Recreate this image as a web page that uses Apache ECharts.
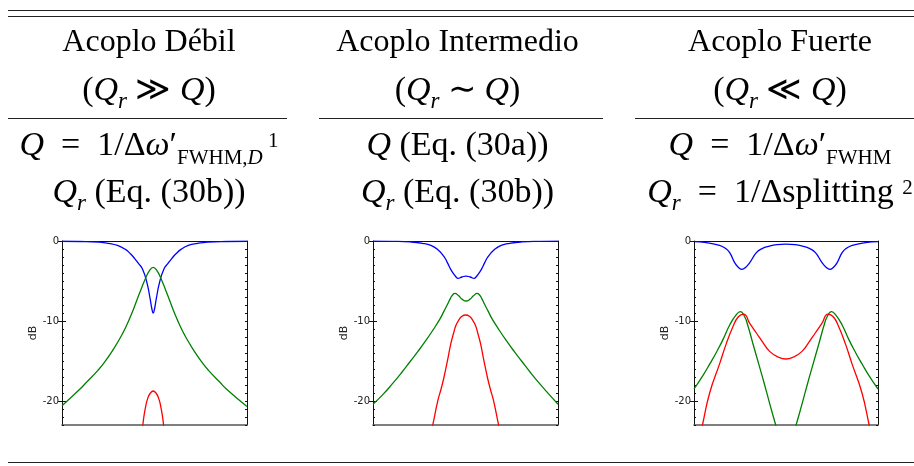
<!DOCTYPE html>
<html>
<head>
<meta charset="utf-8">
<script src="https://cdn.jsdelivr.net/npm/echarts@6/dist/echarts.min.js"></script>
<style>
html, body { margin: 0; padding: 0; background: #fff; }
#main { width: 914px; height: 466px; }
</style>
</head>
<body>
<div id="main"></div>
<script>
// Acoplo débil
var weakBlueX = [0, 10, 20, 25.3, 30, 34.3, 37, 39.3, 41.3, 43.5, 45.9, 47.7, 48.6, 49.3, 50, 50.9, 52.7, 55.1, 57.3, 59.3, 61.6, 64.3, 68.3, 73.3, 78.6, 88.6, 100];
var weakBlueY = [-0.03, -0.06, -0.15, -0.3, -0.55, -1.05, -1.6, -2.2, -2.8, -3.5, -5.2, -7.3, -8.5, -9.0, -8.5, -7.3, -5.2, -3.5, -2.8, -2.2, -1.6, -1.05, -0.55, -0.3, -0.15, -0.06, -0.03];
var weakGreenX = [0, 9.3, 13.5, 19.3, 22.5, 27.3, 31.5, 35, 37.8, 40.3, 42.8, 45.3, 47.3, 49.3, 51.3, 53.3, 55.8, 58.3, 60.8, 63.6, 67.1, 71.3, 76.1, 79.3, 85.1, 89.3, 100];
var weakGreenY = [-20.6, -18.6, -17.6, -16.2, -15.3, -13.7, -12.1, -10.5, -9.0, -7.5, -6.0, -4.6, -3.7, -3.3, -3.7, -4.6, -6.0, -7.5, -9.0, -10.5, -12.1, -13.7, -15.3, -16.2, -17.6, -18.6, -20.7];
var weakRedX = [42.9, 43.7, 44.3, 45.3, 46.3, 47.8, 49.3, 50.8, 52.3, 53.3, 54.3, 54.9, 55.7];
var weakRedY = [-24.5, -23, -21.9, -20.6, -19.7, -19.0, -18.75, -19.0, -19.7, -20.6, -21.9, -23, -24.5];

// Acoplo intermedio
var midBlueX = [0, 10.3, 20.3, 26.7, 31.3, 34.8, 38.4, 40.2, 42, 43.8, 44.9, 45.9, 48.1, 50.3, 52.5, 54.7, 55.7, 56.8, 58.6, 60.4, 62.2, 65.8, 69.3, 73.9, 80.3, 90.3, 100];
var midBlueY = [-0.01, -0.04, -0.12, -0.29, -0.55, -1.04, -1.96, -2.7, -3.54, -4.17, -4.5, -4.67, -4.5, -4.38, -4.5, -4.67, -4.5, -4.17, -3.54, -2.7, -1.96, -1.04, -0.55, -0.29, -0.12, -0.04, -0.01];
var midGreenX = [0, 5.3, 10.3, 15.3, 20.3, 24.3, 28.7, 32.5, 36.3, 38.3, 40.3, 41.8, 43, 44.3, 46.3, 48.3, 50.3, 52.3, 54.3, 56.3, 57.6, 58.8, 60.3, 62.3, 64.3, 68.1, 71.9, 76.3, 80.3, 85.3, 90.3, 95.3, 100];
var midGreenY = [-20.4, -19.2, -17.9, -16.5, -15.0, -13.8, -12.4, -11.1, -9.7, -8.8, -7.9, -7.2, -6.75, -6.54, -6.85, -7.3, -7.5, -7.3, -6.85, -6.54, -6.75, -7.2, -7.9, -8.8, -9.7, -11.1, -12.4, -13.8, -15.0, -16.5, -17.9, -19.2, -20.4];
var midRedX = [30.9, 32.4, 35.1, 36.8, 38.4, 40.3, 42.1, 43.6, 44.9, 46.6, 48.1, 50.1, 52.1, 53.6, 55.3, 56.6, 58.1, 59.9, 61.8, 63.4, 65.1, 67.8, 69.3];
var midRedY = [-24.5, -22.9, -19.9, -18.5, -17, -14.9, -12.8, -11.5, -10.5, -9.8, -9.4, -9.25, -9.4, -9.8, -10.5, -11.5, -12.8, -14.9, -17, -18.5, -19.9, -22.9, -24.5];

// Acoplo fuerte
var strongBlueX = [0, 6.7, 13.9, 17, 19.4, 22.1, 24.2, 26.1, 28, 30.3, 33.9, 37, 41.1, 45, 50, 54.9, 58.8, 62.9, 66, 69.6, 71.9, 73.8, 75.7, 77.8, 80.5, 82.9, 86, 93.2, 100];
var strongBlueY = [-0.08, -0.21, -0.54, -0.9, -1.46, -2.7, -3.3, -3.54, -3.3, -2.7, -1.46, -0.95, -0.63, -0.45, -0.38, -0.45, -0.63, -0.95, -1.46, -2.7, -3.3, -3.54, -3.3, -2.7, -1.46, -0.9, -0.54, -0.21, -0.08];
var strongGreenX = [0, 4.9, 8.5, 12.2, 15.8, 19.4, 23, 25.2, 27.6, 29.3, 32.1, 35.7, 38.4, 41.1, 44.4, 45.5, 54.4, 55.5, 58.8, 61.5, 64.2, 67.8, 70.6, 72.3, 74.7, 76.9, 80.5, 84.1, 87.7, 91.4, 95, 100];
var strongGreenY = [-18.5, -16.8, -15.4, -13.9, -12.3, -10.5, -9.2, -8.83, -9.5, -10.6, -12.9, -15.8, -18.0, -20.3, -23, -23.9, -23.9, -23, -20.3, -18.0, -15.8, -12.9, -10.6, -9.5, -8.83, -9.2, -10.5, -12.3, -13.9, -15.4, -16.8, -18.5];
var strongRedX = [3.5, 4.6, 8.5, 14, 17.6, 21.2, 24, 27, 30.3, 33.9, 37.5, 41.1, 45.7, 49.9, 54.1, 58.7, 62.3, 65.9, 69.5, 72.8, 75.8, 78.6, 82.2, 85.8, 91.3, 95.2, 96.3];
var strongRedY = [-24.1, -23, -19, -15.3, -12.8, -10.7, -9.5, -9.13, -10.3, -11.5, -12.7, -13.8, -14.5, -14.75, -14.5, -13.8, -12.7, -11.5, -10.3, -9.13, -9.5, -10.7, -12.8, -15.3, -19, -23, -24.1];

var majorTicks = [0, -10, -20];
var yMin = -23, yMax = 0;

var chart = echarts.init(document.getElementById('main'));

function pairs(xs, ys) {
    return xs.map(function (x, i) { return [x, ys[i]]; });
}

var serif = 'Liberation Serif';
var ink = '#111';
var rich = {
    t: { fontFamily: serif, fontSize: 32, color: ink, height: 40, lineHeight: 40 },
    n: { fontFamily: serif, fontSize: 34, color: ink, height: 42, lineHeight: 42 },
    i: { fontFamily: serif, fontSize: 34, fontStyle: 'italic', color: ink, height: 42, lineHeight: 42 },
    sub: { fontFamily: serif, fontSize: 23, fontStyle: 'italic', color: ink, height: 22, verticalAlign: 'bottom' },
    subn: { fontFamily: serif, fontSize: 21, color: ink, height: 19, verticalAlign: 'bottom' },
    subi: { fontFamily: serif, fontSize: 21, fontStyle: 'italic', color: ink, height: 19, verticalAlign: 'bottom' },
    sup: { fontFamily: serif, fontSize: 21, color: ink, height: 31, verticalAlign: 'top' }
};

var colX = [149, 457.5, 780];
var rowY = [43, 91.5, 146.5, 193.5];
var sp = '\u2002';
var cells = [
    ['{t|Acoplo Débil}', '{t|Acoplo Intermedio}', '{t|Acoplo Fuerte}'],
    ['{n|(}{i|Q}{sub|r}{n| ≫ }{i|Q}{n|)}', '{n|(}{i|Q}{sub|r}{n| ∼ }{i|Q}{n|)}', '{n|(}{i|Q}{sub|r}{n| ≪ }{i|Q}{n|)}'],
    ['{i|Q}{n|' + sp + '=' + sp + '1/Δ}{i|ω}{n|′}{subn|FWHM,}{subi|D}{sup| 1}', '{i|Q}{n| (Eq. (30a))}', '{i|Q}{n|' + sp + '=' + sp + '1/Δ}{i|ω}{n|′}{subn|FWHM}'],
    ['{i|Q}{sub|r}{n| (Eq. (30b))}', '{i|Q}{sub|r}{n| (Eq. (30b))}', '{i|Q}{sub|r}{n|' + sp + '=' + sp + '1/Δsplitting }{sup|2}']
];

var graphics = [];
cells.forEach(function (row, r) {
    row.forEach(function (txt, c) {
        graphics.push({
            type: 'text', x: colX[c], y: rowY[r],
            style: { text: txt, rich: rich, align: 'center', verticalAlign: 'middle' }
        });
    });
});
function hline(x1, x2, y, w) {
    graphics.push({
        type: 'line', shape: { x1: x1, y1: y, x2: x2, y2: y },
        style: { stroke: '#222', lineWidth: w }
    });
}
hline(8, 914, 10.5, 1.2);
hline(8, 914, 16.5, 1.2);
hline(8, 287, 118.5, 1);
hline(319, 603, 118.5, 1);
hline(635, 914, 118.5, 1);
hline(8, 914, 462.5, 1);

var grids = [
    { left: 62, top: 241, width: 185, height: 184 },
    { left: 373, top: 241, width: 185, height: 184 },
    { left: 694, top: 241, width: 184, height: 184 }
];

var xAxes = [], yAxes = [], series = [];
var tickFont = { fontFamily: 'DejaVu Sans', fontSize: 10, color: '#222' };

grids.forEach(function (g, gi) {
    xAxes.push({
        gridIndex: gi, type: 'value', min: 0, max: 100, position: 'bottom',
        axisLine: { show: true, onZero: false, lineStyle: { color: '#555', width: 1.6 } },
        axisTick: { show: false }, axisLabel: { show: false }, splitLine: { show: false }
    });
    xAxes.push({
        gridIndex: gi, type: 'value', min: 0, max: 100, position: 'top',
        axisLine: { show: true, onZero: false, lineStyle: { color: '#111', width: 1 } },
        axisTick: { show: false }, axisLabel: { show: false }, splitLine: { show: false }
    });
    ['left', 'right'].forEach(function (pos) {
        // minor ticks every 1 dB
        yAxes.push({
            gridIndex: gi, type: 'value', min: yMin, max: yMax, interval: 1, position: pos,
            name: pos === 'left' ? 'dB' : '', nameLocation: 'middle', nameGap: 17,
            nameTextStyle: { fontFamily: 'DejaVu Sans', fontSize: 11, color: '#222' },
            axisLine: { show: true, onZero: false, lineStyle: { color: '#111', width: 1 } },
            axisTick: { show: true, inside: true, length: 2, lineStyle: { color: '#111' } },
            axisLabel: {
                show: pos === 'left', margin: 3, fontFamily: tickFont.fontFamily,
                fontSize: tickFont.fontSize, color: tickFont.color,
                formatter: function (v) { return majorTicks.indexOf(v) >= 0 ? String(v) : ''; }
            },
            splitLine: { show: false }
        });
        // major ticks
        yAxes.push({
            gridIndex: gi, type: 'value', min: yMin, max: yMax, position: pos,
            axisLine: { show: false },
            axisTick: { show: true, inside: true, length: 4, customValues: majorTicks, lineStyle: { color: '#111' } },
            axisLabel: { show: false }, splitLine: { show: false }
        });
    });
});

var sets = [
    [[weakBlueX, weakBlueY], [weakGreenX, weakGreenY], [weakRedX, weakRedY]],
    [[midBlueX, midBlueY], [midGreenX, midGreenY], [midRedX, midRedY]],
    [[strongBlueX, strongBlueY], [strongGreenX, strongGreenY], [strongRedX, strongRedY]]
];
var colors = ['#0000ff', '#008000', '#ff0000'];

sets.forEach(function (set, gi) {
    set.forEach(function (xy, k) {
        series.push({
            type: 'line', xAxisIndex: gi * 2, yAxisIndex: gi * 4,
            data: pairs(xy[0], xy[1]),
            showSymbol: false, smooth: 0.5, clip: true,
            lineStyle: { color: colors[k], width: 1.3 },
            animation: false
        });
    });
});

chart.setOption({
    backgroundColor: '#fff',
    animation: false,
    grid: grids,
    xAxis: xAxes,
    yAxis: yAxes,
    series: series,
    graphic: graphics
});
</script>
</body>
</html>
